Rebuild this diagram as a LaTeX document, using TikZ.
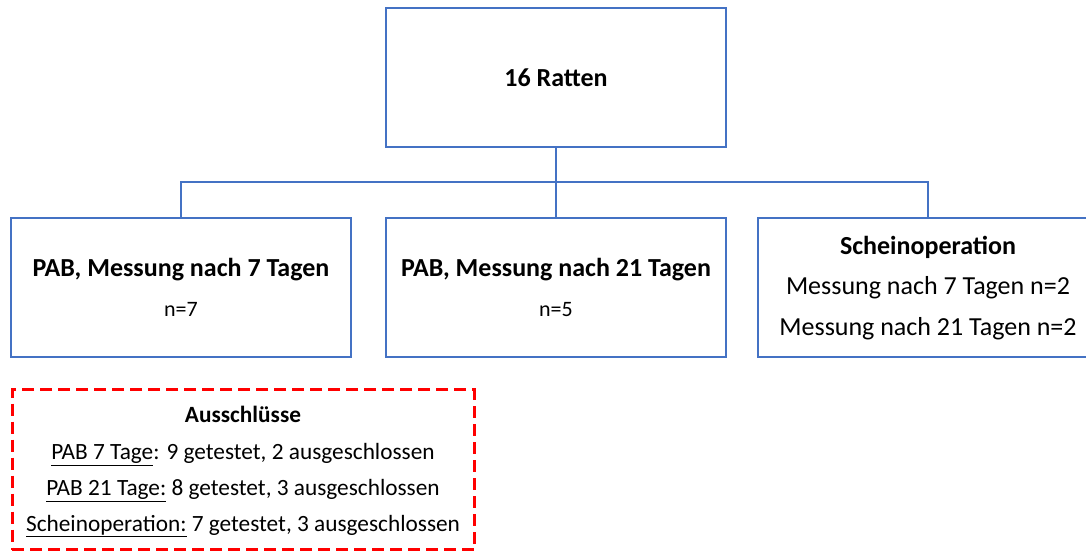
\documentclass[tikz,border=0pt]{standalone}
\usepackage{fontspec}
\setmainfont{Carlito}
\definecolor{boxblue}{HTML}{4472C4}
\definecolor{exred}{HTML}{FF0000}
\tikzset{
  stagebox/.style={draw=boxblue, line width=1.3pt, minimum width=340pt, minimum height=139pt, inner sep=0pt, align=center, text=black},
  exbox/.style={draw=exred, line width=3pt, dash pattern=on 12pt off 6pt, minimum width=462pt, minimum height=160pt, inner sep=0pt, align=center},
  link/.style={draw=boxblue, line width=1.3pt}
}
\begin{document}
\begin{tikzpicture}[x=1pt,y=-1pt]
\useasboundingbox (0,0) rectangle (1086,551);
\clip (0,0) rectangle (1086,551);
\node[stagebox] (top) at (556,77.5) {\fontsize{26}{30}\selectfont\bfseries 16 Ratten};
\node[stagebox] (left) at (181,287.5) {\fontsize{26}{30}\selectfont\bfseries PAB, Messung nach 7 Tagen\\[20pt]\fontsize{22}{26}\selectfont n=7};
\node[stagebox] (mid) at (556,287.5) {\fontsize{26}{30}\selectfont\bfseries PAB, Messung nach 21 Tagen\\[20pt]\fontsize{22}{26}\selectfont n=5};
\node[stagebox, minimum height=139pt] (right) at (928,287.5) {};
\node[align=center, inner sep=0pt] (righttext) at (928,288) {\fontsize{26}{30}\selectfont\bfseries Scheinoperation\\[17pt]\fontsize{26}{30}\selectfont Messung nach 7 Tagen n=2\\[17pt]\fontsize{26}{30}\selectfont Messung nach 21 Tagen n=2};
\node[exbox] (ex) at (243,469.5) {};
\node[align=center, inner sep=0pt] (extext) at (243,471.5) {\fontsize{23.3}{27}\selectfont\bfseries Ausschlüsse\\[20pt]
\fontsize{23.3}{27}\selectfont\underline{PAB 7 Tage}: 9 getestet, 2 ausgeschlossen\\[13pt]
\fontsize{23.3}{27}\selectfont\underline{PAB 21 Tage:} 8 getestet, 3 ausgeschlossen\\[12pt]
\fontsize{23.3}{27}\selectfont\underline{Scheinoperation:} 7 getestet, 3 ausgeschlossen};
\coordinate (j) at (556,182);
\draw[link] (top.south) -- (j);
\draw[link] (j) -| (left.north);
\draw[link] (j) -- (mid.north);
\draw[link] (j) -| (right.north);
\end{tikzpicture}
\end{document}
